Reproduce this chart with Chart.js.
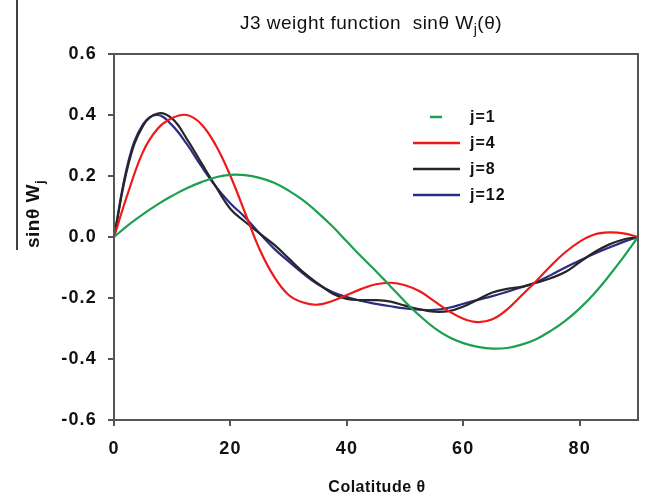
<!DOCTYPE html>
<html>
<head>
<meta charset="utf-8">
<script src="https://cdn.jsdelivr.net/npm/chart.js@4.4.1/dist/chart.umd.min.js"></script>
<style>
  html, body { margin: 0; padding: 0; background: #fff; }
  #wrap { width: 651px; height: 494px; position: relative; }
</style>
</head>
<body>
<div id="wrap"><canvas id="weightChart"></canvas></div>
<script>
// colatitude, degrees
const theta = [0, 2.5, 5, 7.5, 10, 12.5, 15, 17.5, 20, 22.5, 25, 27.5, 30, 32.5, 35, 37.5, 40, 42.5, 45,
  47.5, 50, 52.5, 55, 57.5, 60, 62.5, 65, 67.5, 70, 72.5, 75, 77.5, 80, 82.5, 85, 87.5, 90];

// sin(theta) * W_j(theta)
const j1 = [0, 0.04, 0.075, 0.107, 0.135, 0.16, 0.18, 0.196, 0.204, 0.203, 0.194, 0.178, 0.152, 0.12, 0.08, 0.035,
  -0.015, -0.065, -0.112, -0.162, -0.212, -0.258, -0.298, -0.328, -0.348, -0.36, -0.366, -0.364, -0.353, -0.335,
  -0.308, -0.275, -0.234, -0.185, -0.128, -0.066, 0];
const j4 = [0, 0.15, 0.28, 0.355, 0.39, 0.4, 0.37, 0.3, 0.2, 0.08, -0.04, -0.13, -0.19, -0.215, -0.222, -0.21,
  -0.19, -0.17, -0.155, -0.15, -0.158, -0.178, -0.21, -0.243, -0.268, -0.279, -0.27, -0.238, -0.192, -0.145,
  -0.095, -0.05, -0.015, 0.008, 0.015, 0.012, 0];
const j8 = [0, 0.24, 0.365, 0.405, 0.388, 0.322, 0.243, 0.165, 0.092, 0.05, 0.012, -0.025, -0.07, -0.115, -0.152, -0.185,
  -0.203, -0.207, -0.207, -0.212, -0.225, -0.237, -0.245, -0.243, -0.228, -0.205, -0.182, -0.17, -0.163, -0.15,
  -0.135, -0.115, -0.082, -0.05, -0.025, -0.008, 0];
const j12 = [0, 0.25, 0.37, 0.4, 0.366, 0.305, 0.232, 0.165, 0.11, 0.065, 0.012, -0.038, -0.08, -0.12, -0.155, -0.18,
  -0.197, -0.21, -0.219, -0.227, -0.234, -0.238, -0.239, -0.232, -0.219, -0.206, -0.194, -0.18, -0.165, -0.148,
  -0.125, -0.1, -0.077, -0.055, -0.035, -0.016, 0];

const seriesLabels = ["j=1", "j=4", "j=8", "j=12"];
const xTicks = [0, 20, 40, 60, 80];
const yTicks = [-0.6, -0.4, -0.2, 0.0, 0.2, 0.4, 0.6];

const colors = ["#1ba050", "#f01818", "#262626", "#2c2c86"];
const frameColor = "#555555";

function pts(ys) {
  return theta.map((t, i) => ({ x: t, y: ys[i] }));
}

// text with a subscript piece; parts = [[text, isSub], ...]
function partsWidth(ctx, parts, font, subFont) {
  let w = 0;
  parts.forEach(p => { ctx.font = p[1] ? subFont : font; w += ctx.measureText(p[0]).width; });
  return w;
}
function drawParts(ctx, parts, x, y, font, subFont, subDrop) {
  parts.forEach(p => {
    ctx.font = p[1] ? subFont : font;
    ctx.fillText(p[0], x, p[1] ? y + subDrop : y);
    x += ctx.measureText(p[0]).width;
  });
}

const decorations = {
  id: "decorations",
  beforeDraw(chart) {
    chart.ctx.letterSpacing = "1.2px";
  },
  afterDraw(chart) {
    const ctx = chart.ctx;
    const a = chart.chartArea;
    ctx.save();

    // plot frame
    ctx.strokeStyle = frameColor;
    ctx.lineWidth = 2;
    ctx.strokeRect(a.left, a.top, a.right - a.left, a.bottom - a.top);

    // stray line at the left edge of the scan
    ctx.strokeStyle = "#000";
    ctx.lineWidth = 1.5;
    ctx.beginPath();
    ctx.moveTo(17, 0);
    ctx.lineTo(17, 250);
    ctx.stroke();

    ctx.fillStyle = "#111";
    ctx.textAlign = "left";
    ctx.textBaseline = "alphabetic";

    // title
    ctx.letterSpacing = "0.5px";
    const tFont = "19px 'Liberation Sans', Arial, sans-serif";
    const tSub = "14px 'Liberation Sans', Arial, sans-serif";
    const title = [["J3 weight function  sin\u03b8 W", false], ["j", true], ["(\u03b8)", false]];
    const tw = partsWidth(ctx, title, tFont, tSub);
    drawParts(ctx, title, 371 - tw / 2, 29, tFont, tSub, 5);

    // x axis title
    ctx.font = "bold 16px 'Liberation Sans', Arial, sans-serif";
    ctx.textAlign = "center";
    ctx.fillText("Colatitude \u03b8", 377, 492);
    ctx.textAlign = "left";

    // y axis title, rotated
    const yFont = "bold 19px 'Liberation Sans', Arial, sans-serif";
    const ySub = "bold 13px 'Liberation Sans', Arial, sans-serif";
    const ylab = [["sin\u03b8 W", false], ["j", true]];
    const yw = partsWidth(ctx, ylab, yFont, ySub);
    ctx.save();
    ctx.translate(39, 214);
    ctx.rotate(-Math.PI / 2);
    drawParts(ctx, ylab, -yw / 2, 0, yFont, ySub, 5);
    ctx.restore();

    // legend
    ctx.letterSpacing = "1px";
    ctx.font = "bold 16px 'Liberation Sans', Arial, sans-serif";
    ctx.textBaseline = "middle";
    const rowY = [117, 143, 169, 195];
    chart.data.datasets.forEach((ds, i) => {
      const y = rowY[i];
      ctx.strokeStyle = ds.borderColor;
      ctx.lineWidth = 2.5;
      ctx.beginPath();
      if (i === 0) { ctx.moveTo(430, y); ctx.lineTo(442, y); }
      else { ctx.moveTo(413, y); ctx.lineTo(460, y); }
      ctx.stroke();
      ctx.fillStyle = "#111";
      ctx.fillText(ds.label, 470, y + 1);
    });

    ctx.restore();
  }
};

new Chart(document.getElementById("weightChart"), {
  type: "line",
  data: {
    datasets: [j1, j4, j8, j12].map((ys, i) => ({
      label: seriesLabels[i],
      data: pts(ys),
      borderColor: colors[i],
      borderWidth: 2.2,
      pointRadius: 0,
      fill: false,
      tension: 0.4,
    })),
  },
  options: {
    responsive: true,
    maintainAspectRatio: false,
    animation: false,
    layout: { padding: { left: 0, top: 54, right: 13, bottom: 0 } },
    plugins: {
      legend: { display: false },
      title: { display: false },
      tooltip: { enabled: false },
    },
    scales: {
      x: {
        type: "linear",
        min: 0,
        max: 90,
        afterBuildTicks: (s) => { s.ticks = xTicks.map(v => ({ value: v })); },
        afterFit: (s) => { s.height = 74; },
        grid: { display: true, drawOnChartArea: false, drawTicks: true, tickLength: 6, color: frameColor, lineWidth: 2 },
        border: { display: true, color: frameColor, width: 2 },
        ticks: {
          padding: 12,
          color: "#111",
          font: { family: "'Liberation Sans', Arial, sans-serif", size: 18, weight: "bold" },
          maxRotation: 0,
        },
      },
      y: {
        min: -0.6,
        max: 0.6,
        afterBuildTicks: (s) => { s.ticks = yTicks.map(v => ({ value: v })); },
        afterFit: (s) => { s.width = 114; },
        grid: { display: true, drawOnChartArea: false, drawTicks: true, tickLength: 6, color: frameColor, lineWidth: 2 },
        border: { display: true, color: frameColor, width: 2 },
        ticks: {
          padding: 11,
          color: "#111",
          font: { family: "'Liberation Sans', Arial, sans-serif", size: 18, weight: "bold" },
          callback: (v) => Number(v).toFixed(1),
        },
      },
    },
  },
  plugins: [decorations],
});
</script>
</body>
</html>
